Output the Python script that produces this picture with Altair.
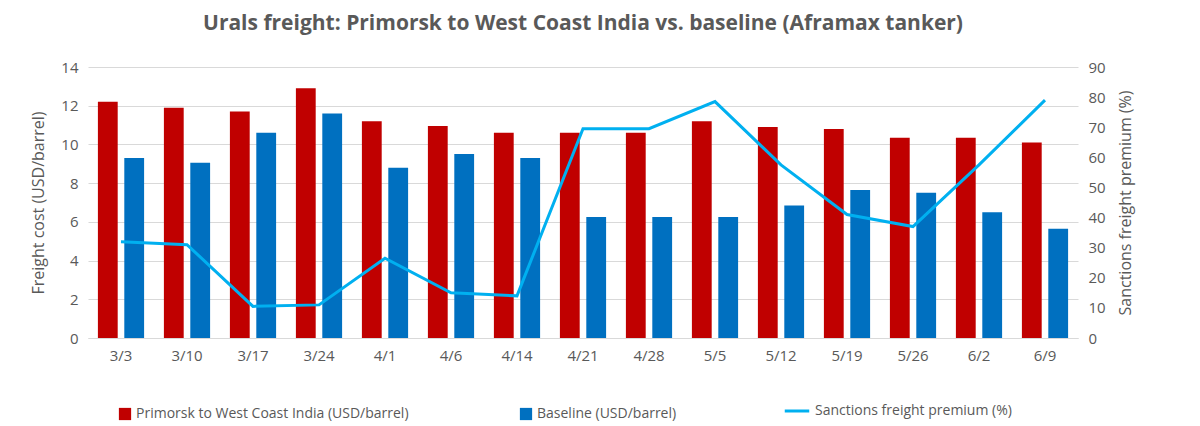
import altair as alt
import pandas as pd

dates = ["3/3", "3/10", "3/17", "3/24", "4/1", "4/6", "4/14", "4/21", "4/28",
         "5/5", "5/12", "5/19", "5/26", "6/2", "6/9"]
primorsk = [12.2, 11.9, 11.7, 12.9, 11.2, 10.95, 10.6, 10.6, 10.6,
            11.2, 10.9, 10.8, 10.35, 10.35, 10.1]
baseline = [9.3, 9.05, 10.6, 11.6, 8.8, 9.5, 9.3, 6.25, 6.25,
            6.25, 6.85, 7.65, 7.5, 6.5, 5.65]
premium = [32, 31, 10.5, 11, 26.5, 15, 14, 69.5, 69.5,
           78.5, 57.5, 41, 37, 57.5, 79]

s1 = "Primorsk to West Coast India (USD/barrel)"
s2 = "Baseline (USD/barrel)"
s3 = "Sanctions freight premium (%)"

bars = pd.DataFrame({
    "date": dates * 2,
    "value": primorsk + baseline,
    "series": [s1] * len(dates) + [s2] * len(dates),
})
line = pd.DataFrame({"date": dates, "value": premium, "series": [s3] * len(dates)})

font = "Open Sans"
grey = "#595959"
leg = dict(direction="horizontal", columnPadding=110, labelFontSize=14, labelColor=grey,
           labelFont=font, labelLimit=400, orient="none")

xenc = alt.X("date:N", sort=dates, title=None,
             scale=alt.Scale(paddingInner=0.3, paddingOuter=0.15),
             axis=alt.Axis(labelAngle=0, labelFontSize=15, labelColor=grey, labelFont=font,
                           ticks=False, domainColor="#d9d9d9", labelPadding=10))

bar_chart = alt.Chart(bars).mark_bar().encode(
    x=xenc,
    xOffset=alt.XOffset("series:N", sort=[s1, s2], scale=alt.Scale(paddingInner=0.25)),
    y=alt.Y("value:Q", title="Freight cost (USD/barrel)",
            scale=alt.Scale(domain=[0, 14]),
            axis=alt.Axis(values=list(range(0, 15, 2)), labelFontSize=15, labelColor=grey,
                          labelFont=font, titleFontSize=16, titleColor=grey, titleFont=font,
                          titleFontWeight="normal", ticks=False, domain=False,
                          gridColor="#d9d9d9", labelPadding=10, titlePadding=14)),
    color=alt.Color("series:N", title=None,
                    scale=alt.Scale(domain=[s1, s2], range=["#c00000", "#0070c0"]),
                    legend=alt.Legend(symbolType="square", symbolSize=150, legendX=30,
                                      legendY=340, **leg)),
)

line_chart = alt.Chart(line).mark_line(strokeWidth=3).encode(
    x=alt.X("date:N", sort=dates),
    y=alt.Y("value:Q", title="Sanctions freight premium (%)",
            scale=alt.Scale(domain=[0, 90]),
            axis=alt.Axis(orient="right", values=list(range(0, 91, 10)), labelFontSize=15,
                          labelColor=grey, labelFont=font, titleFontSize=16, titleColor=grey,
                          titleFont=font, titleFontWeight="normal", titleAngle=270,
                          titleBaseline="top", titlePadding=12,
                          ticks=False, domain=False, grid=False, labelPadding=10)),
    stroke=alt.Stroke("series:N", title=None,
                      scale=alt.Scale(domain=[s3], range=["#00b0f0"]),
                      legend=alt.Legend(symbolType="stroke", symbolSize=600,
                                        symbolStrokeWidth=3, legendX=695, legendY=330, **leg)),
)

chart = alt.layer(bar_chart, line_chart).resolve_scale(y="independent").properties(
    width=990, height=271,
    padding={"left": 22, "top": 5, "right": 5, "bottom": 5},
    title=alt.TitleParams("Urals freight: Primorsk to West Coast India vs. baseline (Aframax tanker)",
                          fontSize=21, color=grey, font=font, fontWeight="bold", offset=26),
).configure_view(stroke=None)

chart.save("out.html", embed_options={"renderer": "svg", "actions": False})
